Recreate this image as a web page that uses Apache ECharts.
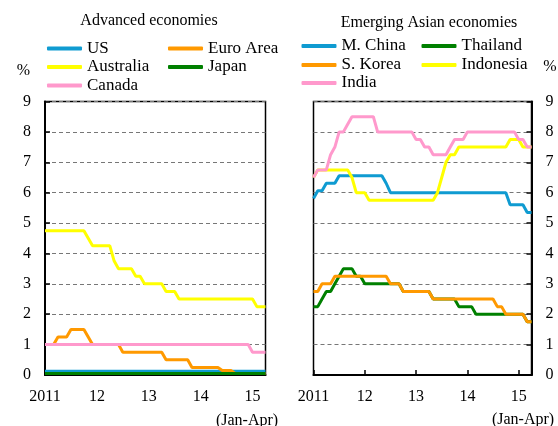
<!DOCTYPE html>
<html>
<head>
<meta charset="utf-8">
<script src="https://cdn.jsdelivr.net/npm/echarts@6/dist/echarts.min.js"></script>
<style>
  html, body { margin: 0; padding: 0; background: #fff; }
  #box { width: 558px; height: 426px; }
</style>
</head>
<body>
<div id="box"></div>
<script>
// months Jan 2011 .. Apr 2015
const months = [
  '11-01','11-02','11-03','11-04','11-05','11-06','11-07','11-08','11-09','11-10','11-11','11-12',
  '12-01','12-02','12-03','12-04','12-05','12-06','12-07','12-08','12-09','12-10','12-11','12-12',
  '13-01','13-02','13-03','13-04','13-05','13-06','13-07','13-08','13-09','13-10','13-11','13-12',
  '14-01','14-02','14-03','14-04','14-05','14-06','14-07','14-08','14-09','14-10','14-11','14-12',
  '15-01','15-02','15-03','15-04'
]
const yearLabels = {0: '2011', 12: '12', 24: '13', 36: '14', 48: '15'}
const yTicks = [0, 1, 2, 3, 4, 5, 6, 7, 8, 9]

// advanced economies
const us = [0.125,0.125,0.125,0.125,0.125,0.125,0.125,0.125,0.125,0.125,0.125,0.125,
  0.125,0.125,0.125,0.125,0.125,0.125,0.125,0.125,0.125,0.125,0.125,0.125,
  0.125,0.125,0.125,0.125,0.125,0.125,0.125,0.125,0.125,0.125,0.125,0.125,
  0.125,0.125,0.125,0.125,0.125,0.125,0.125,0.125,0.125,0.125,0.125,0.125,
  0.125,0.125,0.125,0.125]
const euro = [1,1,1,1.25,1.25,1.25,1.5,1.5,1.5,1.5,1.25,1,
  1,1,1,1,1,1,0.75,0.75,0.75,0.75,0.75,0.75,
  0.75,0.75,0.75,0.75,0.5,0.5,0.5,0.5,0.5,0.5,0.25,0.25,
  0.25,0.25,0.25,0.25,0.25,0.15,0.15,0.15,0.05,0.05,0.05,0.05,
  0.05,0.05,0.05,0.05]
const australia = [4.75,4.75,4.75,4.75,4.75,4.75,4.75,4.75,4.75,4.75,4.5,4.25,
  4.25,4.25,4.25,4.25,3.75,3.5,3.5,3.5,3.5,3.25,3.25,3,
  3,3,3,3,2.75,2.75,2.75,2.5,2.5,2.5,2.5,2.5,
  2.5,2.5,2.5,2.5,2.5,2.5,2.5,2.5,2.5,2.5,2.5,2.5,
  2.5,2.25,2.25,2.25]
const japan = [0.05,0.05,0.05,0.05,0.05,0.05,0.05,0.05,0.05,0.05,0.05,0.05,
  0.05,0.05,0.05,0.05,0.05,0.05,0.05,0.05,0.05,0.05,0.05,0.05,
  0.05,0.05,0.05,0.05,0.05,0.05,0.05,0.05,0.05,0.05,0.05,0.05,
  0.05,0.05,0.05,0.05,0.05,0.05,0.05,0.05,0.05,0.05,0.05,0.05,
  0.05,0.05,0.05,0.05]
const canada = [1,1,1,1,1,1,1,1,1,1,1,1,
  1,1,1,1,1,1,1,1,1,1,1,1,
  1,1,1,1,1,1,1,1,1,1,1,1,
  1,1,1,1,1,1,1,1,1,1,1,1,
  0.75,0.75,0.75,0.75]

// emerging Asian economies
const china = [5.81,6.06,6.06,6.31,6.31,6.31,6.56,6.56,6.56,6.56,6.56,6.56,
  6.56,6.56,6.56,6.56,6.56,6.31,6,6,6,6,6,6,
  6,6,6,6,6,6,6,6,6,6,6,6,
  6,6,6,6,6,6,6,6,6,6,5.6,5.6,
  5.6,5.6,5.35,5.35]
const thailand = [2.25,2.25,2.5,2.75,2.75,3,3.25,3.5,3.5,3.5,3.25,3.25,
  3,3,3,3,3,3,3,3,3,2.75,2.75,2.75,
  2.75,2.75,2.75,2.75,2.5,2.5,2.5,2.5,2.5,2.5,2.25,2.25,
  2.25,2.25,2,2,2,2,2,2,2,2,2,2,
  2,2,1.75,1.75]
const korea = [2.75,2.75,3,3,3,3.25,3.25,3.25,3.25,3.25,3.25,3.25,
  3.25,3.25,3.25,3.25,3.25,3.25,3,3,3,2.75,2.75,2.75,
  2.75,2.75,2.75,2.75,2.5,2.5,2.5,2.5,2.5,2.5,2.5,2.5,
  2.5,2.5,2.5,2.5,2.5,2.5,2.5,2.25,2.25,2,2,2,
  2,2,1.75,1.75]
const indonesia = [6.5,6.75,6.75,6.75,6.75,6.75,6.75,6.75,6.75,6.5,6,6,
  6,5.75,5.75,5.75,5.75,5.75,5.75,5.75,5.75,5.75,5.75,5.75,
  5.75,5.75,5.75,5.75,5.75,6,6.5,7,7.25,7.25,7.5,7.5,
  7.5,7.5,7.5,7.5,7.5,7.5,7.5,7.5,7.5,7.5,7.75,7.75,
  7.75,7.5,7.5,7.5]
const india = [6.5,6.75,6.75,6.75,7.25,7.5,8,8,8.25,8.5,8.5,8.5,
  8.5,8.5,8.5,8,8,8,8,8,8,8,8,8,
  7.75,7.75,7.5,7.5,7.25,7.25,7.25,7.25,7.5,7.75,7.75,7.75,
  8,8,8,8,8,8,8,8,8,8,8,8,
  7.75,7.75,7.5,7.5]

const BLUE = '#0f9bd1', ORANGE = '#ff9900', YELLOW = '#ffff00', GREEN = '#008000', PINK = '#ff99cc'
const FONT = 'Liberation Serif'

const box = document.getElementById('box')
const myChart = echarts.init(box)

function xAxisFor(gridIndex) {
  return {
    type: 'category', gridIndex: gridIndex, data: months, boundaryGap: false,
    axisLine: {lineStyle: {color: '#000', width: 2}},
    axisTick: {inside: true, length: 5, lineStyle: {color: '#000', width: 1.5},
      interval: function (i) { return i % 12 === 0 }},
    axisLabel: {interval: function (i) { return i % 12 === 0 },
      formatter: function (v, i) { return yearLabels[i] || '' },
      color: '#000', fontFamily: FONT, fontSize: 16, margin: 14},
    splitLine: {show: false}
  }
}
function yAxisFor(gridIndex, pos) {
  return {
    type: 'value', gridIndex: gridIndex, position: pos, min: 0, max: 9, interval: 1,
    axisLine: {show: true, lineStyle: {color: '#000', width: 2}},
    axisTick: {show: true, inside: true, length: 5, lineStyle: {color: '#000', width: 1.5}},
    axisLabel: {color: '#000', fontFamily: FONT, fontSize: 16, margin: 14,
      formatter: function (v) { return yTicks.indexOf(v) >= 0 ? String(v) : '' }},
    splitLine: {show: true, lineStyle: {color: '#777', type: [4, 3], width: 1}}
  }
}
function line(name, data, color, idx) {
  return {
    name: name, type: 'line', data: data, xAxisIndex: idx, yAxisIndex: idx,
    symbol: 'none', color: color, lineStyle: {color: color, width: 3},
    z: 3
  }
}
function leg(name, x, y) {
  return {
    data: [name], left: x, top: y, padding: 0, itemWidth: 35, itemHeight: 4,
    icon: 'roundRect', itemGap: 0,
    textStyle: {color: '#000', fontFamily: FONT, fontSize: 17}
  }
}

const option = {
  animation: false,
  backgroundColor: '#fff',
  grid: [
    {left: 45, top: 101.5, width: 220.5, height: 273.5, show: true, borderColor: '#000', borderWidth: 1.5},
    {left: 313.5, top: 101.5, width: 218, height: 273.5, show: true, borderColor: '#000', borderWidth: 1.5}
  ],
  xAxis: [xAxisFor(0), xAxisFor(1)],
  yAxis: [yAxisFor(0, 'left'), yAxisFor(1, 'right')],
  legend: [
    leg('US', 47, 40), leg('Euro Area', 168, 40),
    leg('Australia', 47, 58.5), leg('Japan', 168, 58.5),
    leg('Canada', 47, 77),
    leg('M. China', 301.5, 37.5), leg('Thailand', 421.5, 37.5),
    leg('S. Korea', 301.5, 56.5), leg('Indonesia', 421.5, 56.5),
    leg('India', 301.5, 74.5)
  ],
  graphic: [
    {type: 'text', style: {text: 'Advanced economies', x: 149, y: 21, align: 'center', verticalAlign: 'middle', font: '16px ' + FONT, fill: '#000'}},
    {type: 'text', style: {text: 'Emerging Asian economies', x: 429, y: 23, align: 'center', verticalAlign: 'middle', font: '16px ' + FONT, fill: '#000'}},
    {type: 'text', style: {text: '%', x: 23.5, y: 71, align: 'center', verticalAlign: 'middle', font: '16px ' + FONT, fill: '#000'}},
    {type: 'text', style: {text: '%', x: 550, y: 66.5, align: 'center', verticalAlign: 'middle', font: '16px ' + FONT, fill: '#000'}},
    {type: 'text', style: {text: '(Jan-Apr)', x: 247, y: 421, align: 'center', verticalAlign: 'middle', font: '16px ' + FONT, fill: '#000'}},
    {type: 'text', style: {text: '(Jan-Apr)', x: 523, y: 420, align: 'center', verticalAlign: 'middle', font: '16px ' + FONT, fill: '#000'}}
  ],
  series: [
    line('US', us, BLUE, 0),
    line('Euro Area', euro, ORANGE, 0),
    line('Australia', australia, YELLOW, 0),
    line('Japan', japan, GREEN, 0),
    line('Canada', canada, PINK, 0),
    line('M. China', china, BLUE, 1),
    line('Thailand', thailand, GREEN, 1),
    line('S. Korea', korea, ORANGE, 1),
    line('Indonesia', indonesia, YELLOW, 1),
    line('India', india, PINK, 1)
  ]
}
myChart.setOption(option)
window.onresize = function () {
  myChart.resize()
}
</script>
</body>
</html>
